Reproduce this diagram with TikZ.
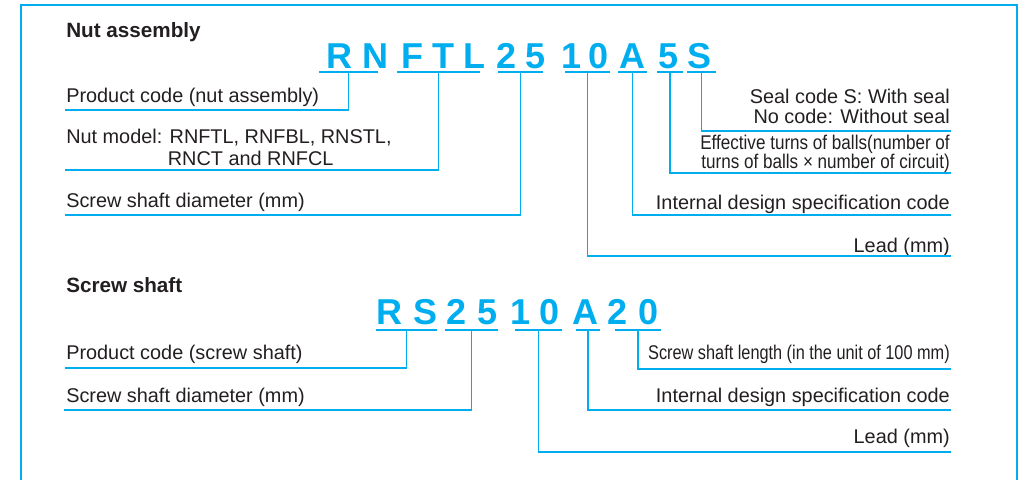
\documentclass[tikz,border=0pt]{standalone}
\usepackage{fontspec}
\setmainfont{Liberation Sans}
\newfontfamily\narrowfont[FakeStretch=0.86]{Liberation Sans}
\newfontfamily\narrowerfont[FakeStretch=0.82]{Liberation Sans}
\usetikzlibrary{positioning}
\definecolor{kyblue}{RGB}{0,174,239}
\definecolor{kyink}{RGB}{35,31,32}

\begin{document}
\begin{tikzpicture}[
    x=0.75pt, y=-0.75pt,
    code/.style={text=kyblue,font=\fontsize{27}{30}\selectfont\bfseries,inner sep=0,anchor=base},
    title/.style={text=kyink,font=\fontsize{15.5}{18}\selectfont\bfseries,inner sep=0,anchor=base west},
    lbl/.style={text=kyink,font=\fontsize{14.9}{15}\selectfont,inner sep=0},
    lft/.style={lbl,anchor=base west},
    rgt/.style={lbl,anchor=base east,align=right},
    uline/.style={fill=kyblue,minimum width=#1*0.75pt,minimum height=1.3pt,inner sep=0,outer sep=0},
    lead/.style={draw=kyblue,line width=1.1pt},
    frame/.style={draw=kyblue,line width=1.2pt}
]
  \useasboundingbox (0,0) rectangle (1020,480);
  \draw[frame] (21,480) -- (21,5) -- (1017,5) -- (1017,480);

  % Nut assembly
  \node[title] (tNut) at (66,37) {Nut assembly};
  \foreach \c/\x [count=\i] in {R/339,N/375,F/412,T/443,L/474,2/507,5/536,1/572,0/599,A/632,5/669,S/699}
    \node[code] (n\i) at (\x,68) {\c};

  \node[uline=59] (uRN)  at (348.5,72) {};
  \node[uline=83] (uFTL) at (438.5,72) {};
  \node[uline=45] (uDia) at (520.5,72) {};
  \node[uline=45] (uLd)  at (587.5,72) {};
  \node[uline=29] (uA)   at (632.5,72) {};
  \node[uline=26] (uTrn) at (670,72) {};
  \node[uline=29] (uS)   at (701.5,72) {};

  % labels (multi-line ones sit on their last line)
  \node[lft] (lProd) at (66,102) {Product code (nut assembly)};
  \node[lft,align=left] (lModel) at (66,165) {Nut model: RNFTL, RNFBL, RNSTL,\\[0.8pt]\phantom{Nut model:\ }RNCT and RNFCL};
  \node[lft] (lDia) at (66,207) {Screw shaft diameter (mm)};
  \node[rgt] (lSeal) at (950,123) {Seal code S: With seal\\No code: Without seal};
  \node[rgt,font=\fontsize{14.9}{15}\selectfont\narrowfont] (lTrn) at (950,168) {Effective turns of balls(number of\\[-1.2pt]turns of balls × number of circuit)};
  \node[rgt] (lDes) at (950,209) {Internal design specification code};
  \node[rgt] (lLd) at (950,252) {Lead (mm)};

  \coordinate (eProd) at (65,110);
  \coordinate (eModel) at (65,170);
  \coordinate (eDia) at (65,215);
  \coordinate (eSeal) at (951,131);
  \coordinate (eTrn) at (951,173);
  \coordinate (eDes) at (951,215);
  \coordinate (eLd) at (951,256);

  \draw[lead] (uRN.south) |- (eProd);
  \draw[lead] (uFTL.south) |- (eModel);
  \draw[lead] (uDia.south) |- (eDia);
  \draw[lead] (uS.south) |- (eSeal);
  \draw[lead] (uTrn.south) |- (eTrn);
  \draw[lead] (uA.south) |- (eDes);
  \draw[lead] (uLd.south) |- (eLd);

  % Screw shaft
  \node[title] (tShaft) at (66,292) {Screw shaft};
  \foreach \c/\x [count=\i] in {R/389,S/425,2/457,5/488,1/521,0/550,A/585,2/618,0/649}
    \node[code] (s\i) at (\x,324) {\c};

  \node[uline=61] (vRS)  at (406.5,330) {};
  \node[uline=53] (vDia) at (471.5,330) {};
  \node[uline=47] (vLd)  at (538.5,330) {};
  \node[uline=24] (vA)   at (588,330) {};
  \node[uline=46] (vLen) at (638,330) {};

  \node[lft] (mProd) at (66,359) {Product code (screw shaft)};
  \node[lft] (mDia) at (66,402) {Screw shaft diameter (mm)};
  \node[rgt,font=\fontsize{14.9}{15}\selectfont\narrowerfont] (mLen) at (950,359) {Screw shaft length (in the unit of 100 mm)};
  \node[rgt] (mDes) at (950,402) {Internal design specification code};
  \node[rgt] (mLd) at (950,443) {Lead (mm)};

  \coordinate (fProd) at (65,368);
  \coordinate (fDia) at (64,410);
  \coordinate (fLen) at (951,369);
  \coordinate (fDes) at (951,410);
  \coordinate (fLd) at (951,452);

  \draw[lead] (vRS.south) |- (fProd);
  \draw[lead] (vDia.south) |- (fDia);
  \draw[lead] (vLen.south) |- (fLen);
  \draw[lead] (vA.south) |- (fDes);
  \draw[lead] (vLd.south) |- (fLd);

\end{tikzpicture}
\end{document}
